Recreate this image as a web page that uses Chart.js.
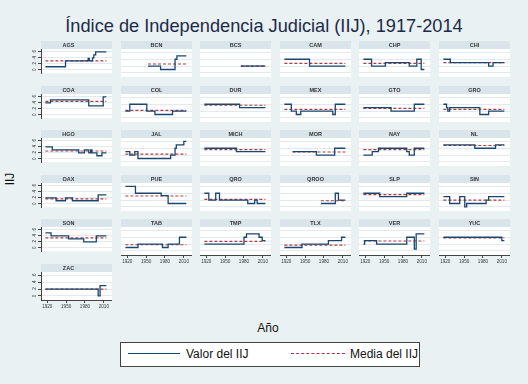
<!DOCTYPE html>
<html><head><meta charset="utf-8">
<script src="https://cdn.jsdelivr.net/npm/chart.js@4"></script>
<style>
body{margin:0;width:528px;height:384px;background:#e9f1f3;position:relative;overflow:hidden;font-family:"Liberation Sans",Arial,sans-serif;color:#1c2a48;}
canvas{position:absolute;}
.t{position:absolute;white-space:nowrap;}
</style></head><body>
<div class="t" style="left:0;width:528px;top:17px;text-align:center;font-size:18.2px;line-height:18px;">Índice de Independencia Judicial (IIJ), 1917-2014</div>
<div class="t" style="left:-10px;top:172px;width:40px;text-align:center;font-size:12px;line-height:14px;transform:rotate(-90deg);color:#111;">IIJ</div>
<div class="t" style="left:238px;width:60px;top:321px;text-align:center;font-size:12px;line-height:14px;color:#111;">Año</div>
<div style="position:absolute;left:120px;top:342px;width:298px;height:23px;border:1px solid #444;background:#fff;"></div>
<div style="position:absolute;left:128px;top:353px;width:52px;border-top:1.5px solid #1a476f;"></div>
<div class="t" style="left:186px;top:347px;font-size:12px;line-height:14px;color:#111;">Valor del IIJ</div>
<div style="position:absolute;left:291px;top:353px;width:54px;border-top:1.5px dashed #a83a3f;"></div>
<div class="t" style="left:350px;top:347px;font-size:12px;line-height:14px;color:#111;">Media del IIJ</div>
<script>
const states = ['AGS','BCN','BCS','CAM','CHP','CHI','COA','COL','DUR','MEX','GTO','GRO','HGO','JAL','MICH','MOR','NAY','NL','OAX','PUE','QRO','QROO','SLP','SIN','SON','TAB','TMP','TLX','VER','YUC','ZAC'];
const AGS = [[1917,.1],[1949,.3],[1985,.38],[1987,.3],[1992,.4],[1994,.5],[1997,.6],[2014,.6]];
const BCN = [[1953,.2],[1973,.1],[1996,.4],[1999,.5],[2014,.5]];
const BCS = [[1975,.2],[2014,.2]];
const CAM = [[1917,.4],[1957,.2],[2014,.2]];
const CHP = [[1917,.4],[1930,.2],[1952,.3],[1990,.2],[2002,.4],[2009,.1],[2014,.1]];
const CHI = [[1917,.4],[1928,.3],[1989,.2],[1996,.3],[2014,.3]];
const COA = [[1917,.4],[1925,.5],[1986,.3],[2009,.6],[2014,.6]];
const COL = [[1917,.2],[1924,.4],[1951,.2],[1964,.1],[1992,.2],[2014,.2]];
const DUR = [[1917,.4],[1973,.3],[2014,.3]];
const MEX = [[1917,.4],[1928,.2],[1936,.1],[1943,.2],[1994,.1],[1998,.4],[2014,.4]];
const GTO = [[1917,.3],[1961,.2],[1998,.4],[2014,.4]];
const GRO = [[1917,.4],[1922,.3],[1924,.2],[1927,.3],[1975,.1],[1989,.2],[2014,.2]];
const HGO = [[1917,.4],[1928,.3],[1970,.2],[1979,.3],[1986,.2],[1989,.3],[1991,.2],[1999,.1],[2007,.2],[2014,.2]];
const JAL = [[1917,.3],[1924,.2],[1932,.3],[1937,.1],[1989,.2],[1996,.4],[1998,.5],[2010,.6],[2014,.6]];
const MICH = [[1917,.4],[1968,.3],[2014,.3]];
const MOR = [[1930,.3],[1968,.2],[1997,.4],[2014,.4]];
const NAY = [[1917,.2],[1931,.3],[1941,.4],[1986,.3],[1990,.2],[1998,.4],[2014,.4]];
const NL = [[1917,.5],[1967,.4],[2000,.5],[2014,.5]];
const OAX = [[1917,.2],[1934,.1],[1949,.2],[1960,.1],[2001,.3],[2014,.3]];
const PUE = [[1917,.6],[1933,.4],[1974,.33],[1985,.1],[2014,.1]];
const QRO = [[1917,.4],[1924,.2],[1935,.4],[1941,.2],[1986,.1],[1997,.2],[2001,.1],[2014,.1]];
const QROO = [[1975,.1],[1998,.4],[2003,.2],[2014,.2]];
const SLP = [[1917,.4],[1943,.3],[1986,.4],[2014,.4]];
const SIN = [[1917,.3],[1927,.1],[1943,.3],[1951,0],[1954,.1],[1985,.2],[1989,.3],[2014,.3]];
const SON = [[1917,.5],[1926,.4],[1954,.3],[1978,.2],[1998,.4],[2014,.4]];
const TAB = [[1917,.1],[1937,.2],[1976,.1],[1985,.2],[2003,.4],[2014,.4]];
const TMP = [[1917,.2],[1980,.4],[1984,.5],[2004,.4],[2009,.3],[2014,.3]];
const TLX = [[1917,.1],[1945,.2],[1987,.3],[2008,.4],[2014,.4]];
const VER = [[1917,.2],[1919,.3],[1938,.2],[1986,.4],[1998,.05],[2001,.5],[2014,.5]];
const YUC = [[1917,.4],[2010,.3],[2014,.3]];
const ZAC = [[1917,.2],[2001,0],[2004,.3],[2014,.3]];
const seriesList = [AGS,BCN,BCS,CAM,CHP,CHI,COA,COL,DUR,MEX,GTO,GRO,HGO,JAL,MICH,MOR,NAY,NL,OAX,PUE,QRO,QROO,SLP,SIN,SON,TAB,TMP,TLX,VER,YUC,ZAC];
const meanValues = [.3,.26,.2,.28,.28,.3,.45,.22,.37,.25,.28,.25,.26,.23,.36,.29,.36,.48,.16,.32,.22,.18,.36,.2,.33,.18,.28,.17,.29,.38,.2];
const xTicks = [1920,1950,1980,2010];
const yTicks = [0,.2,.4,.6];
const yTickLabels = ['0','.2','.4','.6'];

const bgPlugin = {
  id:'bg',
  beforeDraw(chart){
    const {ctx, chartArea:a} = chart;
    ctx.save();
    ctx.fillStyle = '#d9e5eb';
    ctx.fillRect(a.left, 0, a.right - a.left, a.top);
    ctx.fillStyle = '#ffffff';
    ctx.fillRect(a.left, a.top, a.right - a.left, a.bottom - a.top);
    ctx.restore();
  }
};

states.forEach((name, i) => {
  const r = Math.floor(i / 6), c = i % 6;
  const PL = Math.round(41 + c * 79.6), HT = Math.round(41 + r * 44.5);
  const isLeft = c === 0;
  const isBottom = (r === 4 && c > 0) || r === 5;
  const yw = isLeft ? 16 : 0, xh = isBottom ? 11 : 0;
  const W = 71 + yw, H = 36 + xh;
  const cv = document.createElement('canvas');
  cv.width = W; cv.height = H;
  cv.style.left = (PL - yw) + 'px'; cv.style.top = HT + 'px';
  cv.style.width = W + 'px'; cv.style.height = H + 'px';
  document.body.appendChild(cv);
  const pts = seriesList[i];
  const x0 = pts[0][0], x1 = pts[pts.length - 1][0];
  new Chart(cv, {
    type: 'line',
    data: { datasets: [
      { label:'Valor del IIJ', data: pts.map(p => ({x:p[0], y:p[1]})), borderColor:'#1a476f', borderWidth:1.3, pointRadius:0, stepped:'before', fill:false },
      { label:'Media del IIJ', data: [{x:x0, y:meanValues[i]}, {x:x1, y:meanValues[i]}], borderColor:'#b03a42', borderWidth:1.2, borderDash:[3,2], pointRadius:0, fill:false }
    ]},
    options: {
      responsive:false, animation:false, devicePixelRatio:1,
      layout:{padding:0},
      plugins:{
        legend:{display:false}, tooltip:{enabled:false},
        title:{display:true, text:name, padding:0, color:'#333', font:{size:5.5, lineHeight:8/5.5, family:'"Liberation Sans", Arial, sans-serif'}}
      },
      scales:{
        x:{ type:'linear', min:1910, max:2023, display:isBottom,
            afterBuildTicks: s => { s.ticks = xTicks.map(v => ({value:v})); },
            afterFit: s => { s.height = xh; },
            grid:{drawOnChartArea:false, drawTicks:true, tickLength:3, tickColor:'#444'},
            border:{display:true, color:'#444'},
            ticks:{font:{size:4.6}, color:'#333', padding:1, maxRotation:0, autoSkip:false, callback: v => String(v)} },
        y:{ type:'linear', min:-0.12, max:0.7, display:true,
            afterBuildTicks: s => { s.ticks = yTicks.map(v => ({value:v})); },
            afterFit: s => { s.width = yw; },
            grid:{color:'#e3e9ec', drawTicks:isLeft, tickLength:3, tickColor:'#444'},
            border:{display:isLeft, color:'#444'},
            ticks:{display:isLeft, font:{size:4.6}, color:'#333', padding:1, minRotation:90, maxRotation:90, crossAlign:'center',
                   callback: v => yTickLabels[yTicks.indexOf(v)] ?? ''} }
      }
    },
    plugins:[bgPlugin]
  });
});
</script>
</body></html>
